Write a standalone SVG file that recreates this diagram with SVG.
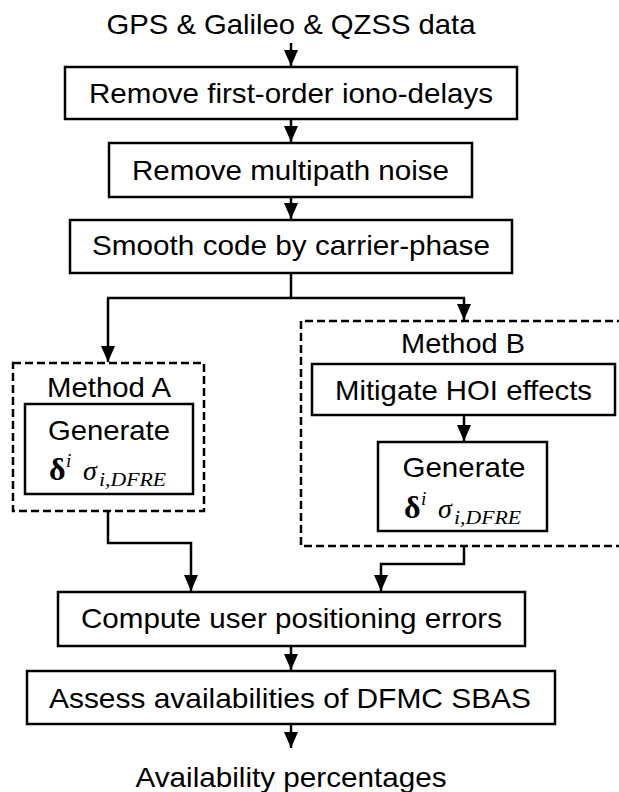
<svg xmlns="http://www.w3.org/2000/svg" width="619" height="792" viewBox="0 0 619 792">
<style>
.box{fill:#fff;stroke:#000;stroke-width:2.5}
.dash{fill:none;stroke:#000;stroke-width:2.5;stroke-dasharray:8 4}
.t{font-family:"Liberation Sans",Arial,sans-serif;font-size:28px;fill:#000;text-anchor:middle}
.ln{fill:none;stroke:#000;stroke-width:2.5}
.m{font-family:"Liberation Serif","DejaVu Serif",serif;fill:#000}
</style>
<defs>
<marker id="ah" markerUnits="userSpaceOnUse" markerWidth="16" markerHeight="14" refX="16" refY="7" orient="auto" viewBox="0 0 16 14">
<path d="M0,0 L16,7 L0,14 z" fill="#000"/>
</marker>
</defs>
<rect width="619" height="792" fill="#fff"/>

<g id="connectors">
<path class="ln" d="M291,43 V66" marker-end="url(#ah)"/>
<path class="ln" d="M291,119 V142" marker-end="url(#ah)"/>
<path class="ln" d="M291,197 V219" marker-end="url(#ah)"/>
<path class="ln" d="M291,273 V298 M107,298 H465"/>
<path class="ln" d="M108,298 V362" marker-end="url(#ah)"/>
<path class="ln" d="M464,298 V320" marker-end="url(#ah)"/>
<path class="ln" d="M464,415 V441" marker-end="url(#ah)"/>
<path class="ln" d="M108,511 V543 H191 V591" marker-end="url(#ah)"/>
<path class="ln" d="M464,546 V564 H381 V591" marker-end="url(#ah)"/>
<path class="ln" d="M291,646 V670" marker-end="url(#ah)"/>
<path class="ln" d="M291,724 V748" marker-end="url(#ah)"/>
</g>

<g id="title">
<text class="t" x="291" y="34" textLength="369" lengthAdjust="spacingAndGlyphs">GPS &amp; Galileo &amp; QZSS data</text>
</g>

<g id="remove-iono">
<rect class="box" x="65" y="67" width="452" height="52"/>
<text class="t" x="291" y="103" textLength="404" lengthAdjust="spacingAndGlyphs">Remove first-order iono-delays</text>
</g>

<g id="remove-multipath">
<rect class="box" x="109" y="143" width="363" height="54"/>
<text class="t" x="290.5" y="180" textLength="317" lengthAdjust="spacingAndGlyphs">Remove multipath  noise</text>
</g>

<g id="smooth-code">
<rect class="box" x="70" y="220" width="442" height="53"/>
<text class="t" x="291" y="255" textLength="398" lengthAdjust="spacingAndGlyphs">Smooth code by carrier-phase</text>
</g>

<g id="method-a">
<rect class="dash" x="13" y="363" width="191" height="148"/>
<text class="t" x="109" y="397" textLength="124" lengthAdjust="spacingAndGlyphs">Method A</text>
<g id="generate-a">
<rect class="box" x="25" y="404" width="168" height="90"/>
<text class="t" x="109" y="440" textLength="122" lengthAdjust="spacingAndGlyphs">Generate</text>
<g class="m" transform="translate(49,480)">
<text x="0" y="0" font-size="32" font-weight="bold">δ</text>
<text x="17" y="-13" font-size="19" font-style="italic">i</text>
<text x="34" y="0" font-size="28" font-style="italic">σ</text>
<text x="50" y="6" font-size="19" font-style="italic" textLength="67" lengthAdjust="spacingAndGlyphs">i,DFRE</text>
</g>
</g>
</g>

<g id="method-b">
<path class="dash" d="M625,321 H301 V546 H625"/>
<text class="t" x="463" y="353" textLength="124" lengthAdjust="spacingAndGlyphs">Method B</text>
<g id="mitigate-hoi">
<rect class="box" x="312" y="364" width="303" height="51"/>
<text class="t" x="463.5" y="400" textLength="257" lengthAdjust="spacingAndGlyphs">Mitigate HOI  effects</text>
</g>
<g id="generate-b">
<rect class="box" x="378" y="442" width="169" height="89"/>
<text class="t" x="464" y="477" textLength="123" lengthAdjust="spacingAndGlyphs">Generate</text>
<g class="m" transform="translate(404,518)">
<text x="0" y="0" font-size="32" font-weight="bold">δ</text>
<text x="17" y="-13" font-size="19" font-style="italic">i</text>
<text x="34" y="0" font-size="28" font-style="italic">σ</text>
<text x="50" y="6" font-size="19" font-style="italic" textLength="67" lengthAdjust="spacingAndGlyphs">i,DFRE</text>
</g>
</g>
</g>

<g id="compute-errors">
<rect class="box" x="58" y="592" width="467" height="54"/>
<text class="t" x="291.5" y="628" textLength="421" lengthAdjust="spacingAndGlyphs">Compute  user positioning errors</text>
</g>

<g id="assess-availability">
<rect class="box" x="27" y="671" width="528" height="53"/>
<text class="t" x="290" y="708" textLength="482" lengthAdjust="spacingAndGlyphs">Assess availabilities of  DFMC SBAS</text>
</g>

<g id="output">
<text class="t" x="291" y="787" textLength="311" lengthAdjust="spacingAndGlyphs">Availability percentages</text>
</g>
</svg>
